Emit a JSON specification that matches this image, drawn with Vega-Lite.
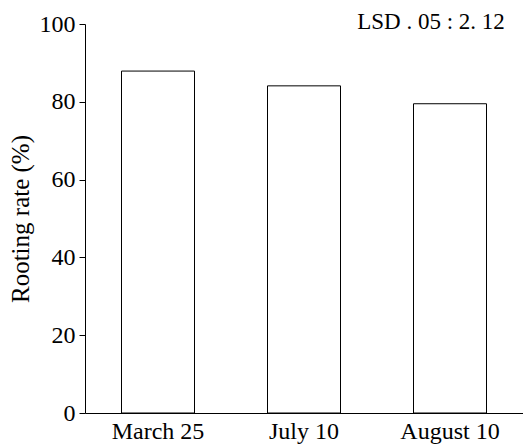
{
  "$schema": "https://vega.github.io/schema/vega-lite/v6.json",
  "width": 438,
  "height": 389,
  "autosize": {"type": "none"},
  "padding": {"left": 85, "top": 24, "right": 0, "bottom": 32},
  "background": "white",
  "config": {
    "view": {"stroke": null},
    "font": "Liberation Serif",
    "axis": {"grid": false, "domainColor": "black", "tickColor": "black", "labelColor": "black", "titleColor": "black", "labelFont": "Liberation Serif", "titleFont": "Liberation Serif", "labelFontSize": 24, "titleFontSize": 25, "titleFontWeight": "normal"}
  },
  "layer": [
    {
      "data": {"values": [
        {"date": "March 25", "rate": 87.9},
        {"date": "July 10", "rate": 84.1},
        {"date": "August 10", "rate": 79.5}
      ]},
      "mark": {"type": "bar", "fill": "white", "stroke": "black", "strokeWidth": 1},
      "encoding": {
        "x": {"field": "date", "type": "nominal", "sort": null, "title": null,
              "scale": {"paddingInner": 0.5, "paddingOuter": 0.25},
              "axis": {"labelAngle": 0, "ticks": false, "labelPadding": 6}},
        "y": {"field": "rate", "type": "quantitative", "title": "Rooting rate (%)",
              "scale": {"domain": [0, 100]},
              "axis": {"values": [0, 20, 40, 60, 80, 100], "tickSize": 6, "labelPadding": 4, "titlePadding": 6}}
      }
    },
    {
      "data": {"values": [{"label": "LSD . 05 : 2. 12", "date": "August 10", "pos": 100.5}]},
      "mark": {"type": "text", "fontSize": 23, "font": "Liberation Serif", "dx": -19, "baseline": "middle", "align": "center"},
      "encoding": {
        "x": {"field": "date", "type": "nominal", "sort": null},
        "y": {"field": "pos", "type": "quantitative"},
        "text": {"field": "label"}
      }
    }
  ]
}
